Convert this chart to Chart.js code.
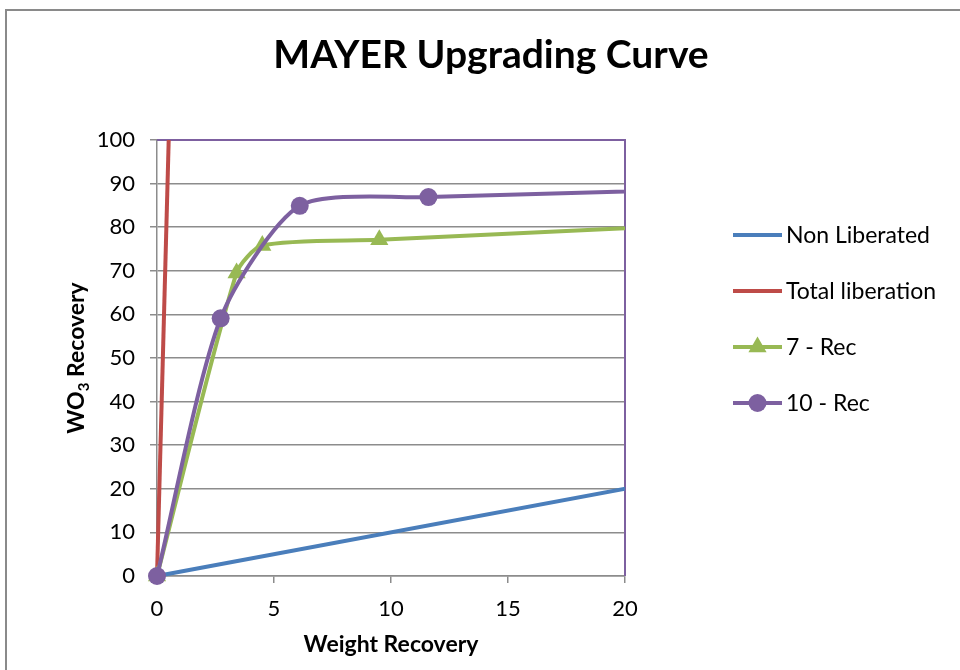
<!DOCTYPE html>
<html>
<head>
<meta charset="utf-8">
<script src="https://cdn.jsdelivr.net/npm/chart.js@4.4.1/dist/chart.umd.min.js"></script>
<style>
  html, body { margin: 0; padding: 0; background: #ffffff; }
  #wrap { width: 960px; height: 670px; position: relative; }
</style>
</head>
<body>
<div id="wrap"><canvas id="chart" width="960" height="670"></canvas></div>
<script>
// Series data: weight recovery (x) against WO3 recovery (y)
const seriesNames = ['Non Liberated', 'Total liberation', '7 - Rec', '10 - Rec'];

const nonLibWeight = [0, 100];
const nonLibRec    = [0, 100];

const totalLibWeight = [0, 0.5];
const totalLibRec    = [0, 100];

const rec7Weight = [0, 3.4, 4.5, 9.5, 100];
const rec7Rec    = [0, 69.5, 75.8, 77.1, 100];

const rec10Weight = [0, 2.72, 6.1, 11.6, 100];
const rec10Rec    = [0, 59.1, 84.9, 86.9, 100];

const xTickValues = [0, 5, 10, 15, 20];
const yTickValues = [0, 10, 20, 30, 40, 50, 60, 70, 80, 90, 100];

const chartTitle = 'MAYER Upgrading Curve';
const xAxisTitle = 'Weight Recovery';

const FONT = 'Lato, "Open Sans", sans-serif';
const GRID = '#8c8c8c';

function pairs(xs, ys) {
  return xs.map((x, i) => ({ x: x, y: ys[i] }));
}

// allow markers at the origin to overflow the plot area, but keep lines inside on the right/top
const clipBox = { left: 14, bottom: 14, top: 0, right: 0 };

const datasets = [
  {
    label: seriesNames[0], data: pairs(nonLibWeight, nonLibRec),
    borderColor: '#4A7EBB', backgroundColor: '#4A7EBB',
    borderWidth: 4, pointRadius: 0, tension: 0, order: 3, clip: clipBox
  },
  {
    label: seriesNames[1], data: pairs(totalLibWeight, totalLibRec),
    borderColor: '#BE4B48', backgroundColor: '#BE4B48',
    borderWidth: 4, pointRadius: 0, tension: 0, order: 2, clip: clipBox
  },
  {
    label: seriesNames[2], data: pairs(rec7Weight, rec7Rec),
    borderColor: '#98B954', backgroundColor: '#98B954',
    borderWidth: 4, pointStyle: 'triangle', pointRadius: 10.5, pointBorderWidth: 0,
    tension: 0.24, order: 1, clip: clipBox
  },
  {
    label: seriesNames[3], data: pairs(rec10Weight, rec10Rec),
    borderColor: '#7D60A0', backgroundColor: '#7D60A0',
    borderWidth: 4, pointStyle: 'circle', pointRadius: 9, pointBorderWidth: 0,
    tension: 0.24, order: 0, clip: clipBox
  }
];

// Frame, title, plot border, y-axis title with subscript, and the side legend
const decorations = {
  id: 'decorations',
  beforeDraw(chart) {
    const ctx = chart.ctx;
    ctx.save();
    ctx.fillStyle = '#ffffff';
    ctx.fillRect(0, 0, chart.width, chart.height);
    ctx.strokeStyle = '#8a8a8a';
    ctx.lineWidth = 2;
    ctx.strokeRect(6, 10, 1200, 1200);
    ctx.fillStyle = '#000000';
    ctx.font = 'bold 39px ' + FONT;
    ctx.textAlign = 'center';
    ctx.textBaseline = 'alphabetic';
    ctx.fillText(chartTitle, 491, 68);
    ctx.restore();
  },
  beforeDatasetsDraw(chart) {
    const ctx = chart.ctx;
    const a = chart.chartArea;
    ctx.save();
    ctx.strokeStyle = '#7D60A0';
    ctx.lineWidth = 2;
    ctx.beginPath();
    ctx.moveTo(a.left, a.top);
    ctx.lineTo(a.right, a.top);
    ctx.lineTo(a.right, a.bottom);
    ctx.stroke();
    ctx.restore();
  },
  afterDraw(chart) {
    const ctx = chart.ctx;
    const a = chart.chartArea;
    ctx.save();
    // y-axis title, rotated, with subscript 3
    ctx.translate(77, (a.top + a.bottom) / 2);
    ctx.rotate(-Math.PI / 2);
    ctx.fillStyle = '#000000';
    ctx.textBaseline = 'middle';
    ctx.textAlign = 'left';
    const big = 'bold 23px ' + FONT, small = 'bold 15px ' + FONT;
    ctx.font = big;
    const w1 = ctx.measureText('WO').width;
    const w3 = ctx.measureText(' Recovery').width;
    ctx.font = small;
    const w2 = ctx.measureText('3').width;
    let x = -(w1 + w2 + w3) / 2;
    ctx.font = big; ctx.fillText('WO', x, 0); x += w1;
    ctx.font = small; ctx.fillText('3', x, 7); x += w2;
    ctx.font = big; ctx.fillText(' Recovery', x, 0);
    ctx.restore();

    // legend
    ctx.save();
    const x0 = 733, x1 = 782, yStart = 235, step = 56;
    chart.data.datasets.forEach((ds, i) => {
      const y = yStart + i * step;
      ctx.strokeStyle = ds.borderColor;
      ctx.lineWidth = 4;
      ctx.beginPath();
      ctx.moveTo(x0, y);
      ctx.lineTo(x1, y);
      ctx.stroke();
      if (ds.pointRadius > 0) {
        ctx.fillStyle = ds.backgroundColor;
        Chart.helpers.drawPoint(ctx, { pointStyle: ds.pointStyle, radius: ds.pointRadius, rotation: 0, borderWidth: 0 }, (x0 + x1) / 2, y);
      }
      ctx.fillStyle = '#000000';
      ctx.font = '23px ' + FONT;
      ctx.textAlign = 'left';
      ctx.textBaseline = 'middle';
      ctx.fillText(ds.label, 786, y + 1);
    });
    ctx.restore();
  }
};

new Chart(document.getElementById('chart'), {
  type: 'line',
  data: { datasets: datasets },
  plugins: [decorations],
  options: {
    responsive: false,
    animation: false,
    layout: { padding: { left: 0, right: 335, top: 140, bottom: 0 } },
    elements: { line: { capBezierPoints: false }, point: { hoverRadius: 9 } },
    plugins: { legend: { display: false }, title: { display: false }, tooltip: { enabled: false } },
    scales: {
      x: {
        type: 'linear', min: 0, max: 20,
        afterBuildTicks(scale) { scale.ticks = xTickValues.map(v => ({ value: v })); },
        afterFit(scale) { scale.height = 94; },
        grid: { drawOnChartArea: false, drawTicks: true, tickLength: 7, color: GRID, lineWidth: 1.5 },
        border: { display: true, color: GRID, width: 1.5 },
        ticks: { color: '#000000', font: { family: FONT, size: 22 }, padding: 13, maxRotation: 0 },
        title: { display: true, text: xAxisTitle, color: '#000000', font: { family: FONT, size: 23, weight: 'bold' }, padding: { top: 0, bottom: 12 } }
      },
      y: {
        type: 'linear', min: 0, max: 100,
        afterBuildTicks(scale) { scale.ticks = yTickValues.map(v => ({ value: v })); },
        afterFit(scale) { scale.width = 157; },
        grid: { drawOnChartArea: true, drawTicks: true, tickLength: 7, color: GRID, lineWidth: 1.5 },
        border: { display: true, color: GRID, width: 1.5 },
        ticks: { color: '#000000', font: { family: FONT, size: 22 }, padding: 15 },
        title: { display: false }
      }
    }
  }
});
</script>
</body>
</html>
